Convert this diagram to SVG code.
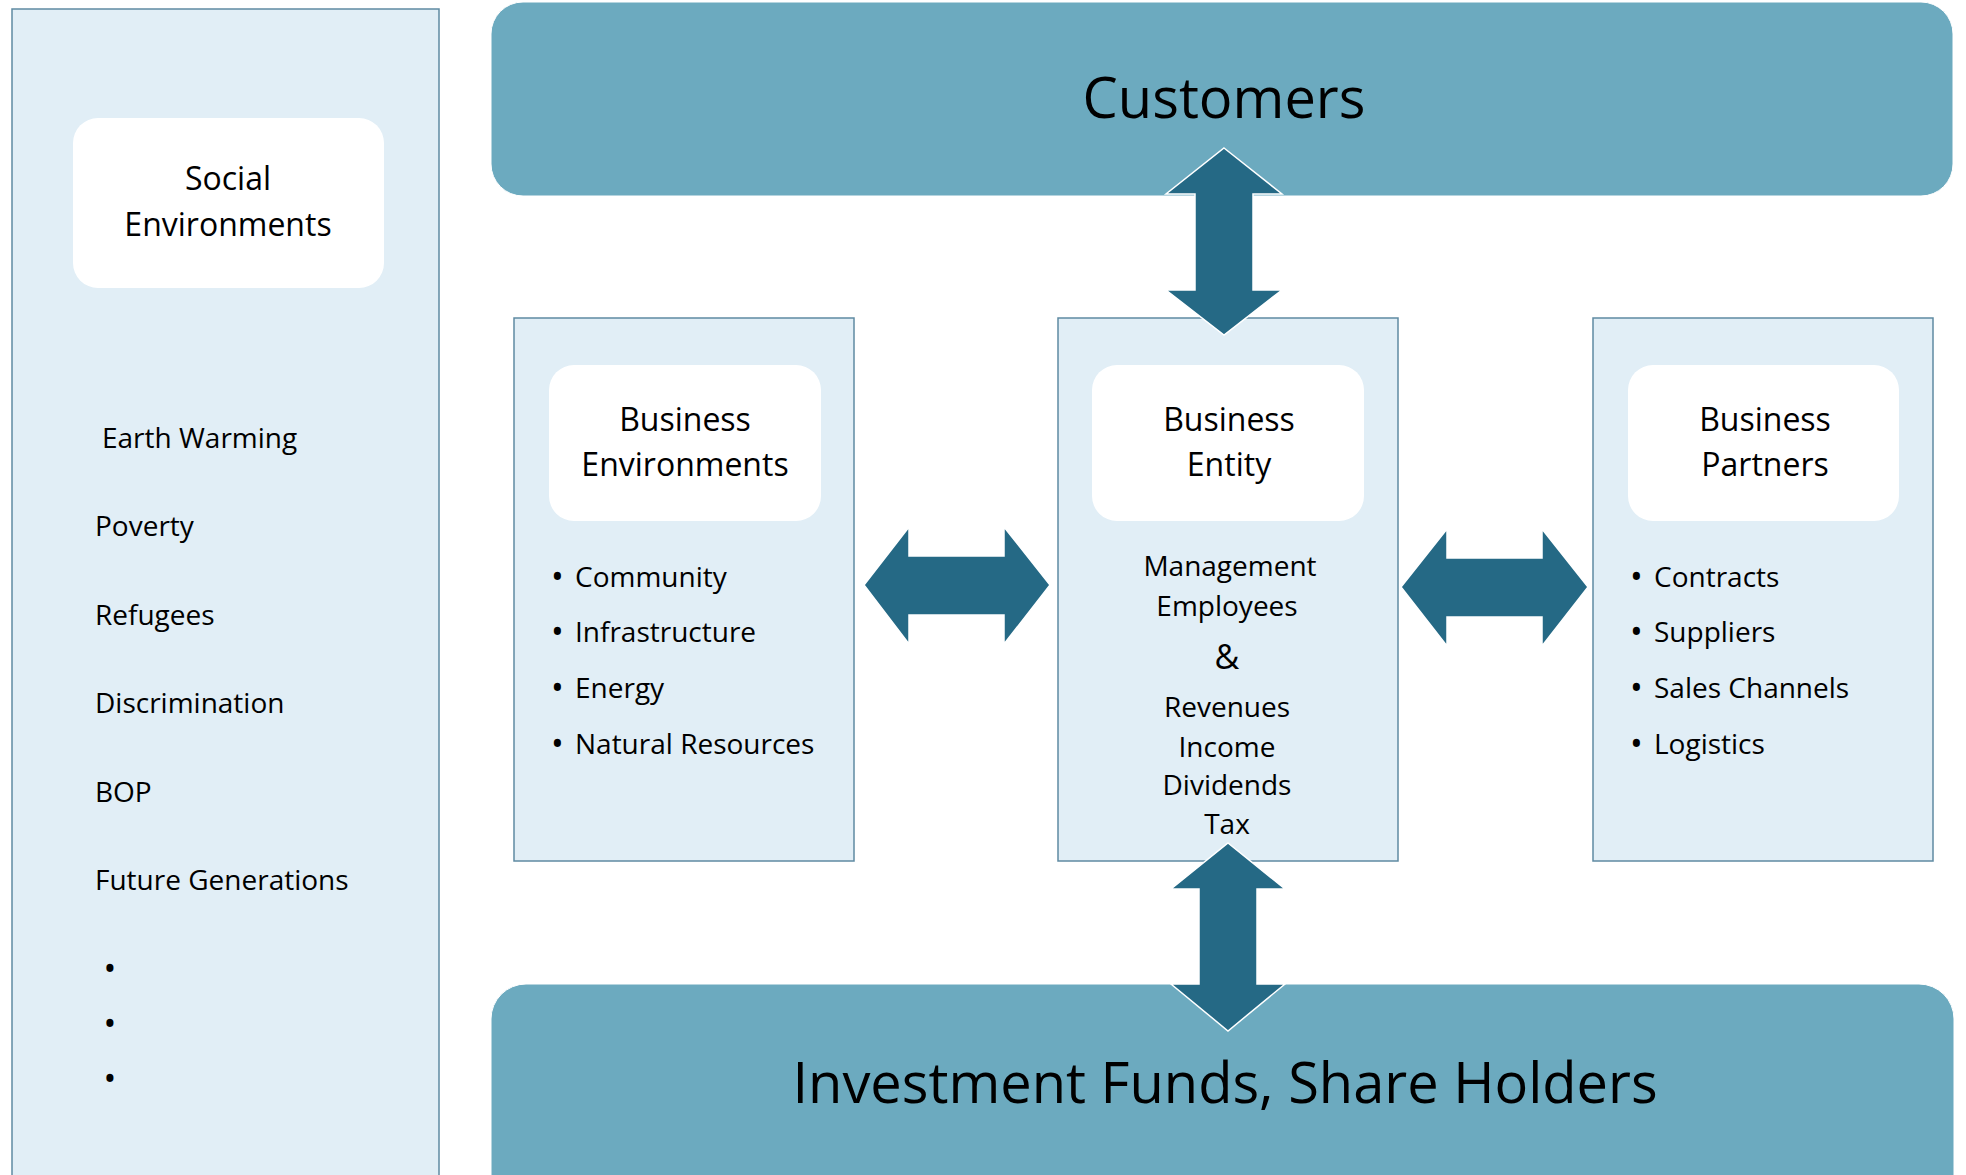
<svg xmlns="http://www.w3.org/2000/svg" width="1966" height="1175" viewBox="0 0 1966 1175">
<style>
text{font-family:"Open Sans","Liberation Sans",sans-serif;fill:#000}
.panel{fill:#e1eef6;stroke:#5f8aa2;stroke-width:1.5}
.card{fill:#ffffff}
.band{fill:#6caabf;stroke:#ffffff;stroke-width:1}
.title{font-size:32px;text-anchor:middle}
.body{font-size:28px}
.bul{font-size:34px}
.mid{text-anchor:middle}
.big{font-size:56px;text-anchor:middle}
.arrow{fill:#256985;stroke:#ffffff;stroke-width:1.5;stroke-linejoin:miter}
</style>
<rect width="1966" height="1175" fill="#ffffff"/>
<g id="social">
<rect class="panel" x="12" y="9" width="427" height="1180"/>
<rect class="card" x="73" y="118" width="311" height="170" rx="25"/>
<text class="title" x="228" y="190">Social</text>
<text class="title" x="228" y="236">Environments</text>
<text class="body" x="102" y="448">Earth Warming</text>
<text class="body" x="95" y="536">Poverty</text>
<text class="body" x="95" y="625">Refugees</text>
<text class="body" x="95" y="713">Discrimination</text>
<text class="body" x="95" y="802">BOP</text>
<text class="body" x="95" y="890">Future Generations</text>
<text class="bul mid" x="110" y="981">•</text>
<text class="bul mid" x="110" y="1036">•</text>
<text class="bul mid" x="110" y="1091">•</text>
</g>
<g id="customers">
<rect class="band" x="491" y="2" width="1462" height="194" rx="32"/>
<text class="big" x="1224" y="118">Customers</text>
</g>
<g id="investors">
<rect class="band" x="491" y="984" width="1463" height="230" rx="35"/>
<text class="big" x="1225" y="1103">Investment Funds, Share Holders</text>
</g>
<g id="business-environments">
<rect class="panel" x="514" y="318" width="340" height="543"/>
<rect class="card" x="549" y="365" width="272" height="156" rx="25"/>
<text class="title" x="685" y="431">Business</text>
<text class="title" x="685" y="476">Environments</text>
<text class="bul" x="551" y="589">•</text>
<text class="body" x="575" y="587">Community</text>
<text class="bul" x="551" y="644">•</text>
<text class="body" x="575" y="642">Infrastructure</text>
<text class="bul" x="551" y="700">•</text>
<text class="body" x="575" y="698">Energy</text>
<text class="bul" x="551" y="756">•</text>
<text class="body" x="575" y="754">Natural Resources</text>
</g>
<g id="business-entity">
<rect class="panel" x="1058" y="318" width="340" height="543"/>
<rect class="card" x="1092" y="365" width="272" height="156" rx="25"/>
<text class="title" x="1229" y="431">Business</text>
<text class="title" x="1229" y="476">Entity</text>
<text class="body mid" x="1230" y="576">Management</text>
<text class="body mid" x="1227" y="616">Employees</text>
<text class="mid" style="font-size:34px" x="1227" y="669">&amp;</text>
<text class="body mid" x="1227" y="717">Revenues</text>
<text class="body mid" x="1227" y="757">Income</text>
<text class="body mid" x="1227" y="795">Dividends</text>
<text class="body mid" x="1227" y="834">Tax</text>
</g>
<g id="business-partners">
<rect class="panel" x="1593" y="318" width="340" height="543"/>
<rect class="card" x="1628" y="365" width="271" height="156" rx="25"/>
<text class="title" x="1765" y="431">Business</text>
<text class="title" x="1765" y="476">Partners</text>
<text class="bul" x="1630" y="589">•</text>
<text class="body" x="1654" y="587">Contracts</text>
<text class="bul" x="1630" y="644">•</text>
<text class="body" x="1654" y="642">Suppliers</text>
<text class="bul" x="1630" y="700">•</text>
<text class="body" x="1654" y="698">Sales Channels</text>
<text class="bul" x="1630" y="756">•</text>
<text class="body" x="1654" y="754">Logistics</text>
</g>
<g id="connectors">
<polygon class="arrow" points="1224,148 1282,194 1253,194 1253,290 1282,290 1224,335 1166,290 1195,290 1195,194 1166,194"/>
<polygon class="arrow" points="1228,843 1285,889 1257,889 1257,984 1285,984 1228,1031 1171,984 1199,984 1199,889 1171,889"/>
<polygon class="arrow" points="864,585 909,527 909,556 1004,556 1004,527 1050,585 1004,644 1004,615 909,615 909,644"/>
<polygon class="arrow" points="1401,587 1447,529 1447,558 1542,558 1542,529 1588,587 1542,646 1542,617 1447,617 1447,646"/>
</g>
</svg>
